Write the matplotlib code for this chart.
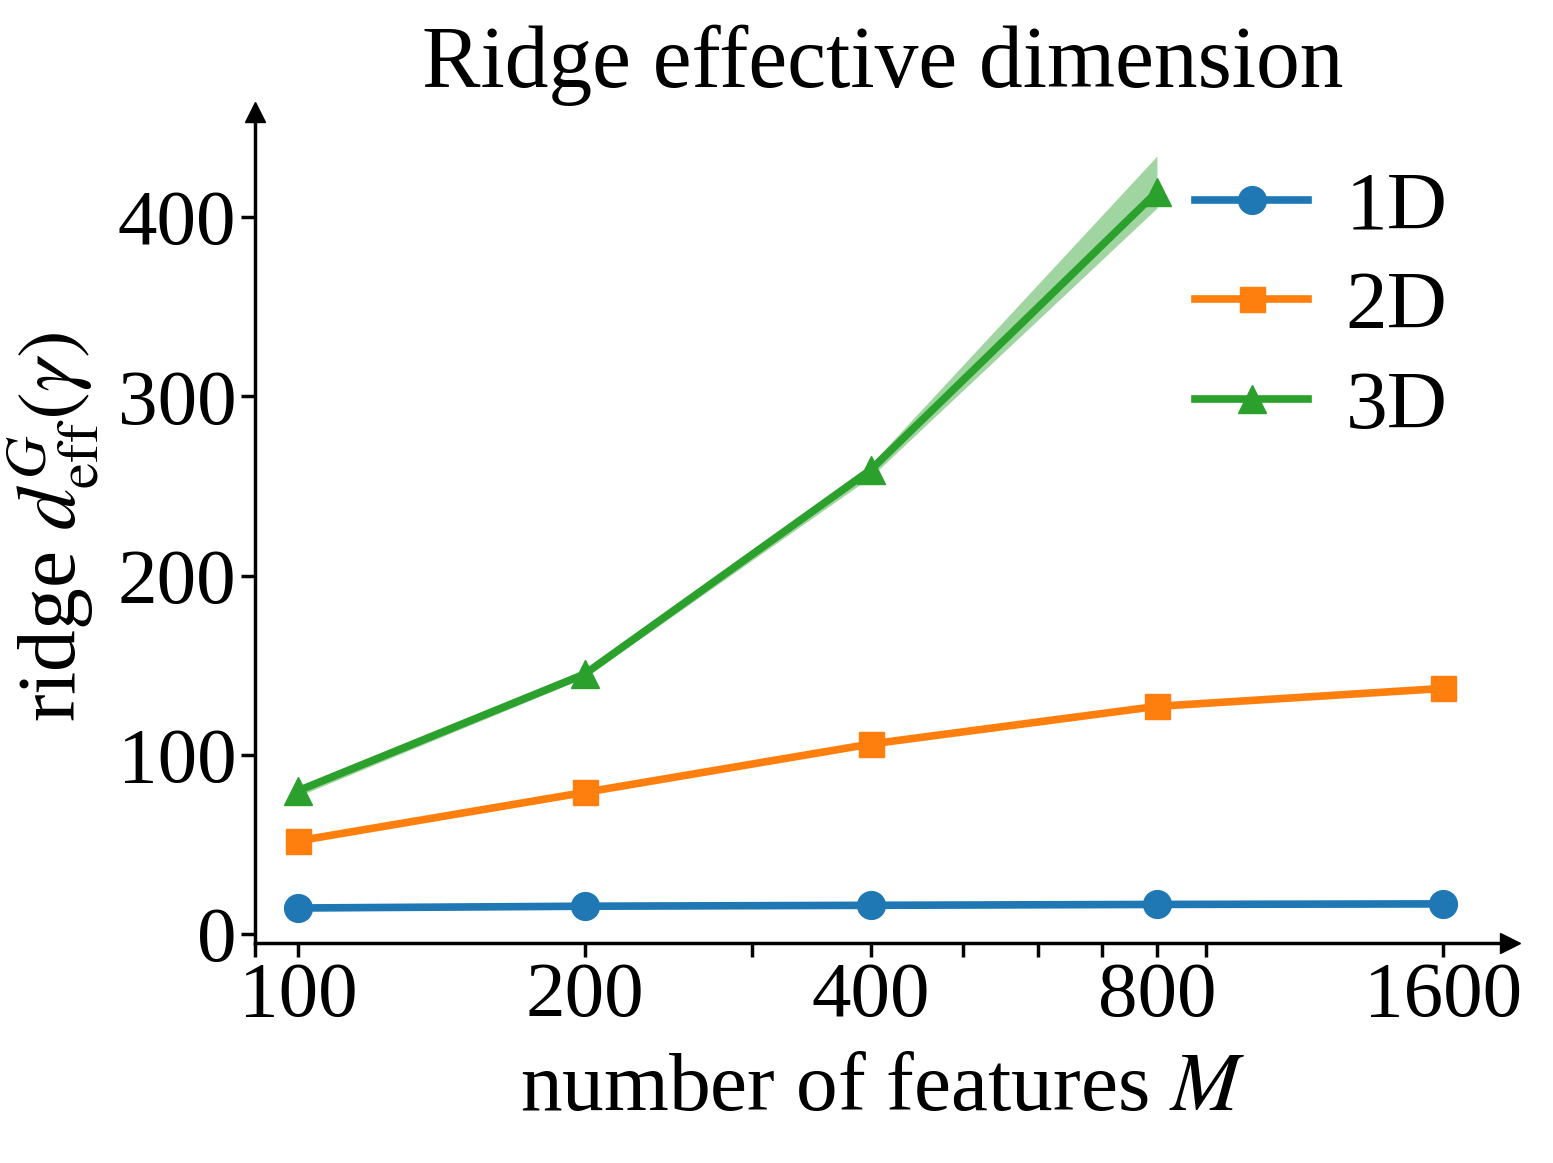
import numpy as np
import matplotlib
matplotlib.use("Agg")
import matplotlib.pyplot as plt

plt.rcParams['font.family'] = ['Liberation Serif', 'DejaVu Serif']
plt.rcParams['mathtext.fontset'] = 'stix'

M = np.array([100, 200, 400, 800, 1600])
d1 = [14.5, 15.5, 16.0, 16.5, 16.8]
d2 = [52, 79, 106, 127, 137]
M3 = np.array([100, 200, 400, 800])
d3 = [80, 145, 259, 414]
d3_lo = [77, 143, 255, 405]
d3_hi = [82, 147, 262, 434]

fig = plt.figure(figsize=(15.53, 11.63), dpi=100)
ax = fig.add_axes([0.1642, 0.1892, 0.808, 0.7145])

lw = 5.5
ax.plot(M, d1, color='C0', marker='o', lw=lw, ms=20, label='1D')
ax.plot(M, d2, color='C1', marker='s', lw=lw, ms=18, label='2D')
ax.plot(M3, d3, color='C2', marker='^', lw=lw, ms=20, label='3D')
ax.fill_between(M3, d3_lo, d3_hi, color='C2', alpha=0.45, lw=0)

ax.set_xscale('log')
ax.set_xlim(90, 1881)
ax.set_ylim(-5, 458.6)
ax.set_xticks(M)
ax.set_xticklabels([str(m) for m in M])
ax.set_yticks([0, 100, 200, 300, 400])
ax.tick_params(axis='both', which='major', labelsize=57, width=2.5, length=10)
ax.tick_params(axis='x', which='minor', width=2.5, length=10, labelbottom=False)

for s in ['top', 'right']:
    ax.spines[s].set_visible(False)
for s in ['left', 'bottom']:
    ax.spines[s].set_linewidth(2.5)
ax.plot(1, 0, '>k', ms=15, transform=ax.transAxes, clip_on=False)
ax.plot(0, 1, '^k', ms=15, transform=ax.transAxes, clip_on=False)

ax.set_xlabel('number of features $M$', fontsize=60, labelpad=14)
ax.set_ylabel(r'ridge $d_{\mathrm{eff}}^{G}(\gamma)$', fontsize=60, labelpad=12)
ax.set_title('Ridge effective dimension', fontsize=63, pad=18)
ax.legend(fontsize=60, frameon=False, loc='upper right', handlelength=1.35,
          handletextpad=0.45, labelspacing=0.28, bbox_to_anchor=(1.01, 1.02))

fig.savefig('out.png')
